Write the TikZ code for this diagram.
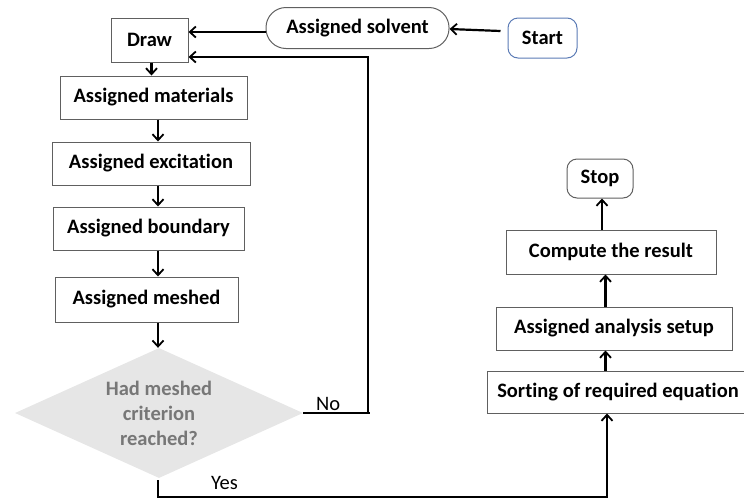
\documentclass[tikz,border=0pt]{standalone}
\usepackage{fontspec}
\setmainfont[Ligatures={NoCommon}]{Carlito}
\usetikzlibrary{arrows.meta,shapes.geometric,calc}
\definecolor{boxline}{HTML}{606060}
\definecolor{startline}{HTML}{5B7BB5}
\definecolor{diafill}{HTML}{E6E6E6}
\definecolor{diatext}{HTML}{777777}
\tikzset{
  box/.style={draw=boxline,line width=1pt,rectangle,inner sep=0pt,font=\fontsize{20.5}{24}\selectfont\bfseries,text=black},
  term/.style={box,rounded corners=10pt},
  arr/.style={draw=black,line width=2.2pt,-{Straight Barb[length=6pt,width=11pt,line width=1.8pt]}},
  ln/.style={draw=black,line width=2.2pt},
  lbl/.style={font=\fontsize{20.5}{24}\selectfont,inner sep=0pt}
}
\begin{document}
\begin{tikzpicture}[x=1pt,y=-1pt]
\useasboundingbox (0,0) rectangle (744,499);
% nodes
\node[term,draw=startline,minimum width=69pt,minimum height=40pt] (start) at (542.5,38) {Start};
\node[box,rounded corners=20pt,minimum width=183pt,minimum height=41pt] (solvent) at (357.5,28) {Assigned solvent};
\node[box,minimum width=77pt,minimum height=44pt] (draw) at (149.5,40) {Draw};
\node[box,minimum width=187pt,minimum height=43pt] (mat) at (153.5,97.5) {Assigned materials};
\node[box,minimum width=198pt,minimum height=43pt] (exc) at (151,163.5) {Assigned excitation};
\node[box,minimum width=191pt,minimum height=43pt] (bnd) at (148.5,228.5) {Assigned boundary};
\node[box,minimum width=183pt,minimum height=45pt] (msh) at (146.5,299.5) {Assigned meshed};
\node[diamond,fill=diafill,draw=none,inner sep=0pt,aspect=2.2,minimum width=288pt,minimum height=130pt] (dia) at (159,413) {};
\node[align=center,text=diatext,font=\fontsize{20.5}{25}\selectfont\bfseries] (diatxt) at (159,413) {Had meshed\\criterion\\reached?};
\node[box,minimum width=262pt,minimum height=42pt] (sort) at (618,392) {Sorting of required equation};
\node[box,minimum width=236pt,minimum height=43pt] (ana) at (614,328.5) {Assigned analysis setup};
\node[box,minimum width=210pt,minimum height=44pt] (comp) at (611,252) {Compute the result};
\node[term,minimum width=66pt,minimum height=39pt] (stop) at (600,178.5) {Stop};
% helper coordinates
\coordinate (spine) at (158,0);
\coordinate (nb) at (370,413);
\coordinate (nt) at (368,57);
\coordinate (yb) at (158,497);
\coordinate (ya) at (607,0);
\coordinate (sa) at (605.5,0);
\coordinate (ca) at (602,0);
% connectors
\draw[arr] ([xshift=-7pt,yshift=7pt]start.west) -- ([yshift=-1pt]solvent.east);
\draw[arr] ([yshift=-4pt]solvent.west) -- ([yshift=-4pt]solvent.west -| draw.east);
\draw[arr] ([xshift=2pt]draw.south) -- ([xshift=2pt]draw.south |- mat.north);
\draw[arr] (mat.south -| spine) -- (exc.north -| spine);
\draw[arr] (exc.south -| spine) -- (bnd.north -| spine);
\draw[arr] (bnd.south -| spine) -- (msh.north -| spine);
\draw[arr] (msh.south -| spine) -- (dia.north -| spine);
\draw[ln] (dia.east) -- (nb);
\draw[arr] (nt |- nb) -- (nt) -- (nt -| draw.east);
\draw[arr] ([yshift=-2pt]dia.south -| spine) -- (yb) -- (yb -| ya) -- (sort.south -| ya);
\draw[arr] (sort.north -| sa) -- (ana.south -| sa);
\draw[arr] (ana.north -| sa) -- (comp.south -| sa);
\draw[arr] (comp.north -| ca) -- (stop.south -| ca);
% labels
\node[lbl,anchor=south west] (no) at (316,411) {No};
\node[lbl,anchor=south west] (yes) at (211,490) {Yes};
\end{tikzpicture}
\end{document}
